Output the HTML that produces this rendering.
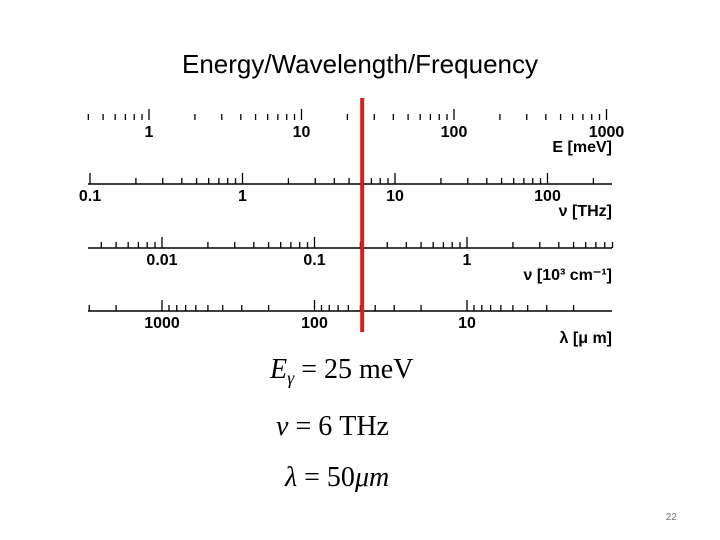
<!DOCTYPE html>
<html><head><meta charset="utf-8"><style>
html,body{margin:0;padding:0;background:#fff;width:720px;height:540px;overflow:hidden}
svg{display:block}
</style></head><body>
<svg id="c" width="720" height="540" xmlns="http://www.w3.org/2000/svg">
<text x="360" y="73" text-anchor="middle" font-family="'Liberation Sans',sans-serif" font-size="26" fill="#000">Energy/Wavelength/Frequency</text>
<g id="scales"></g>
<g font-family="'Liberation Serif',serif" font-size="28" fill="#000">
<text x="270" y="378"><tspan font-style="italic">E</tspan><tspan font-style="italic" font-size="18" dy="6">γ</tspan><tspan dy="-6"> = 25 meV</tspan></text>
<text x="276" y="435"><tspan font-style="italic">ν</tspan> = 6 THz</text>
<text x="285" y="486"><tspan font-style="italic">λ</tspan> = 50<tspan font-style="italic">μm</tspan></text>
</g>
<text x="677" y="520" text-anchor="end" font-family="'Liberation Sans',sans-serif" font-size="10" fill="#777">22</text>
</svg>
<script>
// scale data: decade label values and the label anchors
const scaleNames = ["energy-mev","frequency-thz","wavenumber","wavelength-um"];
const decadeLabels = [["1","10","100","1000"],["0.1","1","10","100"],["0.01","0.1","1"],["1000","100","10"]];
const decadeValues = [[1,10,100,1000],[0.1,1,10,100],[0.01,0.1,1],[1000,100,10]];
const unitLabels = ["E [meV]","ν [THz]","ν [10³ cm⁻¹]","λ [μ m]"];
const markerEnergy = [25];

const NS="http://www.w3.org/2000/svg";
const g=document.getElementById('scales');
const xL=88,xR=612,dec=152.5;
const rowY=[120,184,248,311];
const hasLine=[false,true,true,true];
const firstX=[149,90,162,162];
function mk(t,a){const e=document.createElementNS(NS,t);for(const k in a)e.setAttribute(k,a[k]);return e;}
scaleNames.forEach((nm,i)=>{
  const vals=decadeValues[i];
  const rev=vals.length>1&&vals[1]<vals[0];
  const l0=Math.log10(vals[0]);
  const xOf=v=>firstX[i]+(rev?-(Math.log10(v)-l0):(Math.log10(v)-l0))*dec;
  const y=rowY[i];
  const grp=mk('g',{});
  
  
  g.appendChild(grp);
  if(hasLine[i]){const ln=mk('line',{x1:xL,x2:xR,y1:y,y2:y,stroke:'#000','stroke-width':1.5});
    
    
    grp.appendChild(ln);}
  const lo=Math.floor(Math.log10(Math.min(...vals)))-1, hi=Math.ceil(Math.log10(Math.max(...vals)))+1;
  for(let p=lo;p<=hi;p++)for(let m=1;m<=9;m++){
    const v=m*Math.pow(10,p);const x=xOf(v);
    if(x<xL-1||x>xR+1)continue;
    const h=m===1?11:6;
    const t=mk('line',{x1:x,x2:x,y1:y-h,y2:y,stroke:'#000','stroke-width':1.3});
    
    
    grp.appendChild(t);
  }
  vals.forEach((v,k)=>{
    const tx=mk('text',{x:xOf(v),y:y+17,'text-anchor':'middle','font-family':"'Liberation Sans',sans-serif",'font-size':16,'font-weight':'bold'});
    tx.textContent=decadeLabels[i][k];
    
    
    grp.appendChild(tx);
  });
  const u=mk('text',{x:612,y:y+32,'text-anchor':'end','font-family':"'Liberation Sans',sans-serif",'font-size':16,'font-weight':'bold'});
  u.textContent=unitLabels[i];
  
  
  grp.appendChild(u);
});
// red marker line at the photon energy
const mx=149+Math.log10(markerEnergy[0])*dec;
const red=mk('line',{x1:mx,x2:mx,y1:98,y2:332,stroke:'#d42020','stroke-width':4});


g.appendChild(red);
</script>
</body></html>
